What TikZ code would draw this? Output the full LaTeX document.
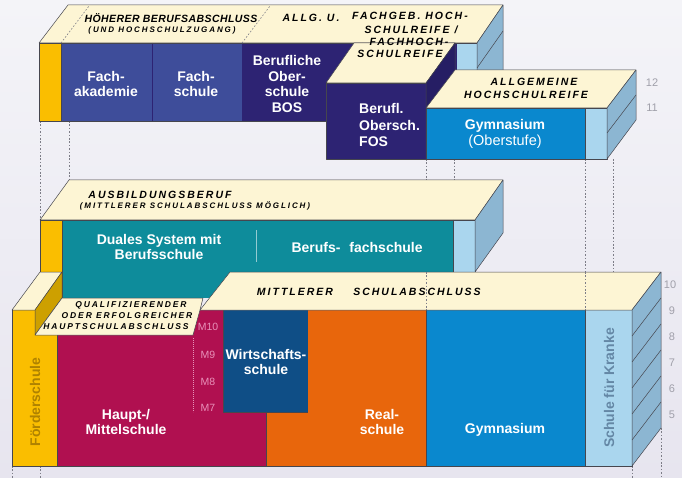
\documentclass[tikz,border=0pt]{standalone}
\usepackage{fontspec}
\setmainfont{Liberation Sans}
\newfontfamily\lblfam{Liberation Sans}
\definecolor{bgA}{RGB}{244,244,248}
\definecolor{bgB}{RGB}{231,229,239}
\definecolor{cream}{RGB}{253,245,212}
\definecolor{gold}{RGB}{250,190,0}
\definecolor{mustard}{RGB}{205,160,0}
\definecolor{fachblue}{RGB}{62,77,154}
\definecolor{indigo}{RGB}{45,35,115}
\definecolor{indigoside}{RGB}{38,30,100}
\definecolor{teal2}{RGB}{14,140,155}
\definecolor{crimson}{RGB}{176,16,80}
\definecolor{navy2}{RGB}{15,78,134}
\definecolor{orange2}{RGB}{232,102,12}
\definecolor{gymblue}{RGB}{10,136,206}
\definecolor{lightblue}{RGB}{170,214,238}
\definecolor{steel}{RGB}{140,182,210}
\definecolor{edge}{RGB}{70,70,78}
\definecolor{gradegray}{RGB}{160,160,170}
\definecolor{mpink}{RGB}{232,145,185}
\definecolor{fstext}{RGB}{175,130,0}
\definecolor{sktext}{RGB}{100,135,165}
\definecolor{guidecol}{RGB}{125,125,135}
\begin{document}
\begin{tikzpicture}[x=1pt,y=-1pt,
  face/.style={draw=edge,line width=0.5pt,line join=round},
  guideline/.style={draw=guidecol,line width=0.6pt,dash pattern=on 1.6pt off 1.8pt},
  wtxt/.style={text=white,font=\bfseries\fontsize{14}{15}\selectfont,align=center,inner sep=0pt},
  wreg/.style={text=white,font=\fontsize{14.5}{15}\selectfont,align=center,inner sep=0pt},
  lbl/.style={font=\lblfam\bfseries\itshape\fontsize{10.5}{12}\selectfont\addfontfeatures{LetterSpace=19},inner sep=0pt},
  tlbl/.style={font=\lblfam\bfseries\itshape\fontsize{10.5}{12}\selectfont\addfontfeatures{LetterSpace=4},inner sep=0pt},
  slbl/.style={font=\lblfam\bfseries\itshape\fontsize{8}{10}\selectfont\addfontfeatures{LetterSpace=24},inner sep=0pt},
  qlbl/.style={font=\lblfam\bfseries\itshape\fontsize{8.5}{10}\selectfont\addfontfeatures{LetterSpace=22},inner sep=0pt},
  grade/.style={text=gradegray,font=\fontsize{11}{12}\selectfont,inner sep=0pt},
  mlbl/.style={text=mpink,font=\fontsize{10.5}{12}\selectfont,inner sep=0pt}]
\useasboundingbox (0,0) rectangle (682,478);
\shade[top color=bgA,bottom color=bgB] (0,0) rectangle (682,478);

% guide lines (background)
\draw[guideline] (40,121)--(40,220);
\draw[guideline] (69,121)--(69,180);
\draw[guideline] (426,159)--(426,180);
\draw[guideline] (454,159)--(454,180);
\draw[guideline] (585,159)--(585,310);
\draw[guideline] (613,159)--(613,272);
\draw[guideline] (12,466)--(12,478);
\draw[guideline] (40,466)--(40,478);
\draw[guideline] (632,466)--(632,478);
\draw[guideline] (661,428)--(661,478);

% ===== upper block (back) =====
\filldraw[fill=cream,face] (39,43)--(68,5)--(503,5)--(477,43)--cycle;
\fill[gold] (39,43) rectangle (61,121);
\fill[fachblue] (61,43) rectangle (242,121);
\draw[line width=0.7pt,draw=indigo] (152,43)--(152,121);
\fill[indigo] (242,43) rectangle (457,121);
\fill[lightblue] (457,43) rectangle (477,121);
\draw[face] (39,43) rectangle (477,121);
\draw[face] (61,43)--(61,121);
\filldraw[fill=steel,face] (477,43)--(503,5)--(503,83)--(477,121)--cycle;
\draw[face] (477,68)--(503,31);
\draw[guideline] (61,43)--(89,6);
\draw[guideline] (242,43)--(270,6);

% FOS
\filldraw[fill=indigo,face] (326,83) rectangle (426,159);
\filldraw[fill=cream,face] (326,83)--(426,83)--(455,43)--(354,43)--cycle;
\filldraw[fill=indigoside,face] (426,83)--(455,43)--(455,121)--(426,159)--cycle;

% Gymnasium Oberstufe
\fill[gymblue] (426,108) rectangle (585,159);
\fill[lightblue] (585,108) rectangle (607,159);
\draw[face] (426,108) rectangle (607,159);
\draw[face] (585,108)--(585,159);
\filldraw[fill=cream,face] (426,108)--(607,108)--(636,70)--(455,70)--cycle;
\filldraw[fill=steel,face] (607,108)--(636,70)--(636,120)--(607,159)--cycle;
\draw[face] (607,133)--(636,95);

% ===== middle block =====
\filldraw[fill=cream,face] (40,220)--(69,180)--(503,180)--(475,220)--cycle;
\fill[gold] (40,220) rectangle (62,272);
\fill[teal2] (62,220) rectangle (453,298);
\fill[lightblue] (453,220) rectangle (475,272);
\draw[face] (40,220)--(475,220)--(475,272);
\draw[face] (40,220)--(40,272);
\draw[face] (62,220)--(62,298);
\draw[face] (453,220)--(453,272);
\filldraw[fill=steel,face] (475,220)--(503,180)--(503,233)--(475,272)--cycle;
\draw[white!55!teal2,line width=0.8pt] (256,230)--(256,262);

% ===== bottom block =====
\fill[gold] (12,310) rectangle (35,466);
\fill[gold] (35,335) rectangle (57,466);
\filldraw[fill=cream,face] (12,310)--(35,310)--(62,272)--(40,272)--cycle;
\filldraw[fill=mustard,face] (35,310)--(62,272)--(62,298)--(35,335)--cycle;
\fill[crimson] (57,335)--(193,335)--(193,310)--(223,310)--(223,412)--(266,412)--(266,466)--(57,466)--cycle;
\fill[navy2] (223,310) rectangle (308,412);
\fill[orange2] (308,310)--(426,310)--(426,466)--(266,466)--(266,412)--(308,412)--cycle;
\fill[gymblue] (426,310) rectangle (585,466);
\fill[lightblue] (585,310) rectangle (632,466);
\draw[face] (12,310)--(12,466)--(632,466)--(632,310);
\draw[face] (57,335)--(57,466);
\draw[face] (223,310)--(223,412)--(308,412);
\draw[face] (266,412)--(266,466);
\draw[face] (426,310)--(426,466);
\draw[face] (585,310)--(585,466);
\filldraw[fill=cream,face] (35,335)--(193,335)--(200,310)--(203,298)--(62,298)--cycle;
\filldraw[fill=cream,face] (200,310)--(632,310)--(661,272)--(230,272)--cycle;
\filldraw[fill=steel,face] (632,310)--(661,272)--(661,428)--(632,466)--cycle;
\foreach \k in {1,...,5} \draw[face] (632,310+26*\k)--(661,272+26*\k);
\draw[guideline] (426,272)--(426,310);
\draw[guideline] (585,272)--(585,310);
\draw[mpink,line width=0.6pt,dash pattern=on 0.8pt off 1.2pt] (193,338)--(193,412);

% ===== texts: upper =====
\node[tlbl] (t1) at (171,18) {HÖHERER BERUFSABSCHLUSS};
\node[slbl] (t2) at (162,30) {(UND HOCHSCHULZUGANG)};
\node[lbl] (t3) at (311,18) {ALLG. U.};
\node[lbl] (t4) at (410,16) {FACHGEB. HOCH-};
\node[lbl] (t5) at (411,30) {SCHULREIFE /};
\node[lbl] (t6) at (409,42) {FACHHOCH-};
\node[lbl] (t7) at (400,54) {SCHULREIFE};
\node[lbl] (t8) at (534,82) {ALLGEMEINE};
\node[lbl] (t9) at (526,95) {HOCHSCHULREIFE};

\node[wtxt] (fa) at (106,84) {Fach-\\akademie};
\node[wtxt] (fs) at (196,84) {Fach-\\schule};
\node[wtxt,font=\bfseries\fontsize{14}{15.5}\selectfont] (bos) at (287,84) {Berufliche\\Ober-\\schule\\BOS};
\node[wtxt,align=left,anchor=west,font=\bfseries\fontsize{14}{16.5}\selectfont] (fos) at (359,125) {Berufl.\\Obersch.\\FOS};
\node[wtxt] (gyo) at (505,126) {Gymnasium};
\node[wreg] (gyo2) at (505,142) {(Oberstufe)};
\node[grade] (g12) at (652,83) {12};
\node[grade] (g11) at (652,108) {11};

% ===== texts: middle =====
\node[lbl] (t10) at (160,195) {AUSBILDUNGSBERUF};
\node[slbl] (t11) at (195,206) {(MITTLERER SCHULABSCHLUSS MÖGLICH)};
\node[wtxt] (ds) at (159,247) {Duales System mit\\Berufsschule};
\node[wtxt] (bf1) at (316,247) {Berufs-};
\node[wtxt] (bf2) at (386,247) {fachschule};

% ===== texts: bottom =====
\node[lbl] (t12) at (295,292) {MITTLERER};
\node[lbl] (t13) at (417,292) {SCHULABSCHLUSS};
\node[qlbl] (q1) at (131,305) {QUALIFIZIERENDER};
\node[qlbl] (q2) at (127,316) {ODER ERFOLGREICHER};
\node[qlbl] (q3) at (116,327) {HAUPTSCHULABSCHLUSS};
\node[mlbl] (m10) at (208,327) {M10};
\node[mlbl] (m9) at (208,355) {M9};
\node[mlbl] (m8) at (208,382) {M8};
\node[mlbl] (m7) at (208,408) {M7};
\node[wtxt,text=fstext,rotate=90] (foe) at (35,402) {Förderschule};
\node[wtxt] (hm) at (126,422) {Haupt-/\\Mittelschule};
\node[wtxt] (ws) at (266,362) {Wirtschafts-\\schule};
\node[wtxt] (rs) at (382,422) {Real-\\schule};
\node[wtxt] (gy) at (505,430) {Gymnasium};
\node[wtxt,text=sktext,rotate=90] (sk) at (609,388) {Schule für Kranke};
\node[grade] (g10) at (670,285) {10};
\node[grade] (g9) at (672,311) {9};
\node[grade] (g8) at (672,337) {8};
\node[grade] (g7) at (672,363) {7};
\node[grade] (g6) at (672,389) {6};
\node[grade] (g5) at (672,415) {5};
\end{tikzpicture}
\end{document}
